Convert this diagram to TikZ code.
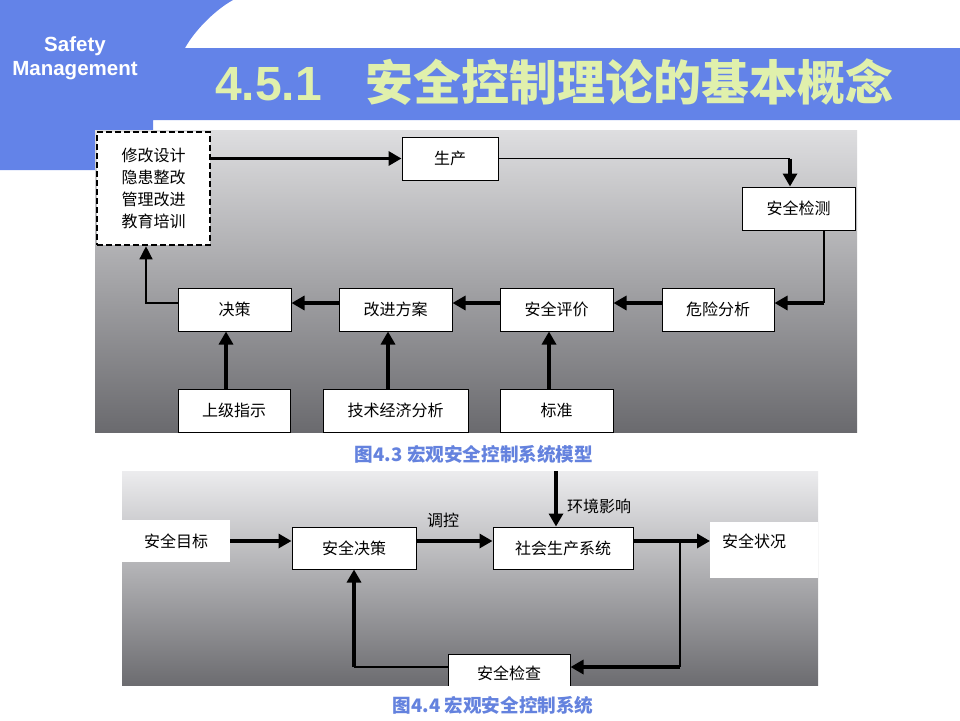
\documentclass[tikz,border=0pt]{standalone}
\usepackage{fontspec}
\setmainfont{Liberation Sans}
\newfontfamily\cjk{Noto Sans CJK SC}
\usetikzlibrary{arrows.meta}
\definecolor{bandblue}{RGB}{99,131,232}
\definecolor{titlefg}{RGB}{224,240,172}
\definecolor{capblue}{RGB}{100,130,222}
\definecolor{gA}{RGB}{222,222,224}
\definecolor{gB}{RGB}{172,172,175}
\definecolor{gC}{RGB}{106,106,110}
\definecolor{hA}{RGB}{236,236,238}
\definecolor{hB}{RGB}{192,192,194}
\definecolor{hC}{RGB}{108,108,112}
\tikzset{
  boxnode/.style={draw=black, fill=white, line width=1pt, inner sep=0pt,
    font=\cjk\fontsize{16}{18}\selectfont, minimum height=43pt},
  plainnode/.style={fill=white, inner sep=0pt, font=\cjk\fontsize{16}{18}\selectfont},
  lbl/.style={inner sep=0pt, font=\cjk\fontsize{16}{18}\selectfont},
  thk/.style={line width=3.2pt, -{Triangle[length=13pt,width=14pt]}},
  thn/.style={line width=1.2pt},
  thnarr/.style={line width=1.4pt, -{Triangle[length=13pt,width=13pt]}},
  captext/.style={inner sep=0pt, text=capblue, font=\cjk\bfseries\fontsize{18.6}{20}\selectfont}
}
\begin{document}
\begin{tikzpicture}[x=1pt,y=-1pt]
\useasboundingbox (0,0) rectangle (960,720);
\fill[white] (0,0) rectangle (960,720);
% header
\fill[bandblue] (0,0) -- (233,0) .. controls (215,10) and (195,30) .. (185,48)
  -- (960,48) -- (960,120) -- (153,120) -- (153,170) -- (0,170) -- cycle;
\node[text=white, font=\bfseries\fontsize{20.5}{22}\selectfont, inner sep=0pt] (s1) at (75,46) {Safety};
\node[text=white, font=\bfseries\fontsize{20.5}{22}\selectfont, inner sep=0pt] (s2) at (75,71) {Management};
\node[text=titlefg, anchor=base west, inner sep=0pt, font=\bfseries\fontsize{48}{50}\selectfont] (title) at (215,100)
  {4.5.1\hspace{44pt}{\cjk\bfseries 安全控制理论的基本概念}};
% top panel
\shade[top color=gA, middle color=gB, bottom color=gC] (95,130) rectangle (857,432);
\node[draw=black, fill=white, line width=2.6pt, dash pattern=on 6pt off 3pt, minimum width=113pt, minimum height=113pt,
  inner sep=0pt, font=\cjk\fontsize{16}{22}\selectfont] (mod) at (153.5,188.5)
  {\raisebox{5pt}{\parbox{70pt}{\centering 修改设计\\隐患整改\\管理改进\\教育培训}}};
\node[boxnode, minimum width=96pt] (sc) at (450,158.5) {生产};
\node[boxnode, minimum width=113pt] (aqjc) at (798.5,208.5) {安全检测};
\node[boxnode, minimum width=113pt] (jc) at (234.5,309.5) {决策};
\node[boxnode, minimum width=113pt] (gj) at (395.5,309.5) {改进方案};
\node[boxnode, minimum width=113pt] (pj) at (556.5,309.5) {安全评价};
\node[boxnode, minimum width=112pt] (wx) at (718,309.5) {危险分析};
\node[boxnode, minimum width=112pt] (sj) at (234,410.5) {上级指示};
\node[boxnode, minimum width=145pt] (js) at (395.5,410.5) {技术经济分析};
\node[boxnode, minimum width=113pt] (bz) at (556.5,410.5) {标准};
\coordinate (c1) at (790,158.5);
\coordinate (c2) at (824,303);
\coordinate (c3) at (146,303);
\draw[thk] (mod.east |- sc.west) -- (sc.west);
\draw[thn] (sc.east) -- (c1);
\draw[thk] (c1) -- (aqjc.north -| c1);
\draw[thn] (aqjc.south -| c2) -- (c2);
\draw[thk] (c2) -- (wx.east |- c2);
\draw[thk] ([yshift=6.5pt]wx.west) -- ([yshift=6.5pt]pj.east);
\draw[thk] ([yshift=6.5pt]pj.west) -- ([yshift=6.5pt]gj.east);
\draw[thk] ([yshift=6.5pt]gj.west) -- ([yshift=6.5pt]jc.east);
\draw[thnarr] (jc.west |- c3) -- (c3) -- (mod.south -| c3);
\draw[thk] ([xshift=-8pt]sj.north) -- ([xshift=-8pt]sj.north |- jc.south);
\draw[thk] ([xshift=-7.5pt]js.north) -- ([xshift=-7.5pt]js.north |- gj.south);
\draw[thk] ([xshift=-7.5pt]bz.north) -- ([xshift=-7.5pt]bz.north |- pj.south);
\node[captext] (cap1) at (474,454) {图4.3 宏观安全控制系统模型};
% bottom panel
\shade[top color=hA, middle color=hB, bottom color=hC] (122,471) rectangle (818,685);
\node[plainnode, minimum width=108pt, minimum height=42pt] (mb) at (176,541) {安全目标};
\node[boxnode, minimum width=124pt, minimum height=42pt] (jc2) at (354,548) {安全决策};
\node[boxnode, minimum width=140pt, minimum height=42pt] (sh) at (563,548) {社会生产系统};
\node[plainnode, anchor=north west, inner xsep=12pt, inner ysep=12pt, text width=84pt, align=left,
  text height=13pt, text depth=19pt] (zk) at (710,522) {安全状况};
\begin{scope}
\clip (122,471) rectangle (818,685);
\node[boxnode, anchor=north, minimum width=122pt, minimum height=42pt] (jcc) at (509,654) {\raisebox{5pt}{安全检查}};
\end{scope}
\coordinate (c4) at (556,471);
\coordinate (c5) at (680,541);
\coordinate (c6) at (680,667);
\coordinate (c7) at (354,667);
\draw[thk] (mb.east) -- (jc2.west |- mb.east);
\draw[thk] ([yshift=7pt]jc2.east) -- node[lbl, pos=0.35, yshift=21pt] (tk) {调控} ([yshift=7pt]sh.west);
\draw[thk] (c4) -- (sh.north -| c4);
\node[lbl] (hj) at (599,506) {环境影响};
\draw[thk] ([yshift=7pt]sh.east) -- (zk.west |- c5);
\draw[thn] (c5) -- (c6);
\draw[thk] (c6) -- (jcc.east |- c6);
\draw[thn] (jcc.west |- c7) -- (c7);
\draw[thk] (c7) -- (jc2.south);
\node[captext] (cap2) at (493,705) {图4.4 宏观安全控制系统};
\end{tikzpicture}
\end{document}
